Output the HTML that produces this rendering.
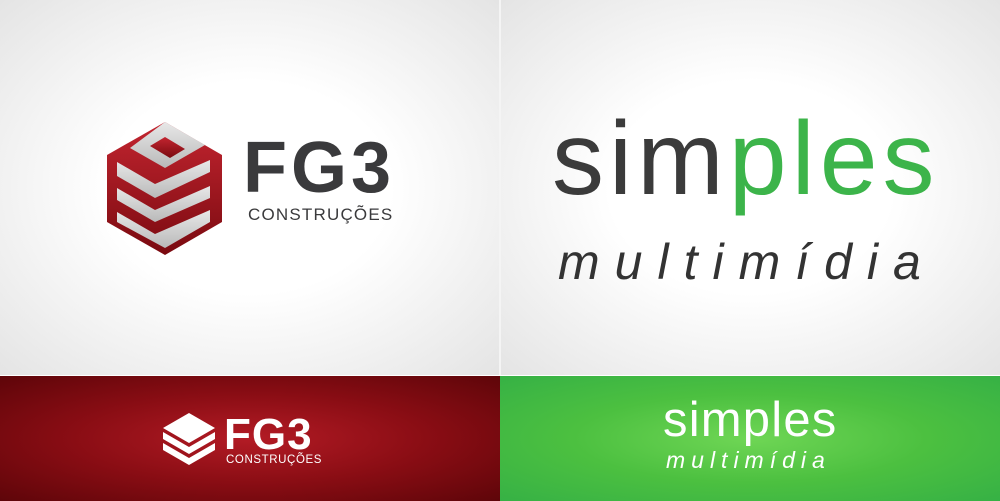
<!DOCTYPE html>
<html><head><meta charset="utf-8"><style>
html,body{margin:0;padding:0;width:1000px;height:501px;overflow:hidden;font-family:"Liberation Sans",sans-serif}
.p{position:absolute}
</style></head><body>
<div class="p" style="left:0;top:0;width:499px;height:375px;background:radial-gradient(ellipse at 50% 50%,#ffffff 40%,#e4e4e4 100%)"></div>
<div class="p" style="left:501px;top:0;width:499px;height:375px;background:radial-gradient(ellipse at 50% 50%,#ffffff 40%,#e4e4e4 100%)"></div>
<div class="p" style="left:499px;top:0;width:2px;height:375px;background:#f4f4f4"></div>
<div class="p" style="left:0;top:376px;width:500px;height:125px;background:radial-gradient(ellipse at 50% 50%,#b31b25 0%,#8a0d14 50%,#5e0509 100%)"></div>
<div class="p" style="left:500px;top:376px;width:500px;height:125px;background:radial-gradient(ellipse at 50% 50%,#6fd655 0%,#4cc040 50%,#36b145 100%)"></div>

<svg class="p" style="left:0;top:0" width="500" height="375">
<defs><linearGradient id="r" x1="0" y1="0" x2="0" y2="1"><stop offset="0" stop-color="#c32530"/><stop offset="1" stop-color="#7a0a10"/></linearGradient>
<linearGradient id="g" x1="0" y1="0" x2="0" y2="1"><stop offset="0" stop-color="#e8e8e8"/><stop offset="1" stop-color="#b9b9b9"/></linearGradient></defs>
<polygon points="165,122 222,155 222,222 165,255 107,222 107,155" fill="url(#r)"/>
<polygon points="165,122 205,145 165,168 130,148" fill="url(#g)"/>
<polygon points="150,146 165,137 185,149 170,158" fill="url(#r)"/>
<polygon points="117,162 155,184 210,160 210,172 155,198 117,176" fill="url(#g)"/>
<polygon points="117,188 155,210 210,186 210,198 155,222 117,200" fill="url(#g)"/>
<polygon points="117,212 155,234 210,210 210,222 165,248 117,222" fill="url(#g)"/>
</svg>
<div class="p" style="left:243px;top:128px;font-size:72px;font-weight:bold;color:#3a3a3c;letter-spacing:4px;line-height:80px">FG3</div>
<div class="p" style="left:248px;top:205px;font-size:17px;color:#3a3a3c;letter-spacing:1.2px">CONSTRUÇÕES</div>

<div class="p" style="left:552px;top:94px;font-size:104px;line-height:130px;letter-spacing:5px"><span style="color:#3b3b3b">sim</span><span style="color:#3cb44a">ples</span></div>
<div class="p" style="left:558px;top:232px;font-size:50px;font-style:italic;color:#333;letter-spacing:15px;line-height:60px">multimídia</div>

<svg class="p" style="left:0;top:376px" width="500" height="125">
<g fill="#fff"><polygon points="189,37 215,52 189,67 163,52"/><polygon points="163,56 189,71 215,56 215,63 189,78 163,63"/><polygon points="163,67 189,82 215,67 215,74 189,89 163,74"/></g>
</svg>
<div class="p" style="left:224px;top:410px;font-size:44px;font-weight:bold;color:#fff;line-height:50px;letter-spacing:1px">FG3</div>
<div class="p" style="left:226px;top:454px;font-size:11.5px;color:#fff;letter-spacing:0.6px">CONSTRUÇÕES</div>

<div class="p" style="left:663px;top:390px;font-size:49px;color:#fff;line-height:60px;letter-spacing:1.2px">simples</div>
<div class="p" style="left:666px;top:446px;font-size:23px;font-style:italic;color:#fff;letter-spacing:6px;line-height:28px">multimídia</div>
</body></html>
